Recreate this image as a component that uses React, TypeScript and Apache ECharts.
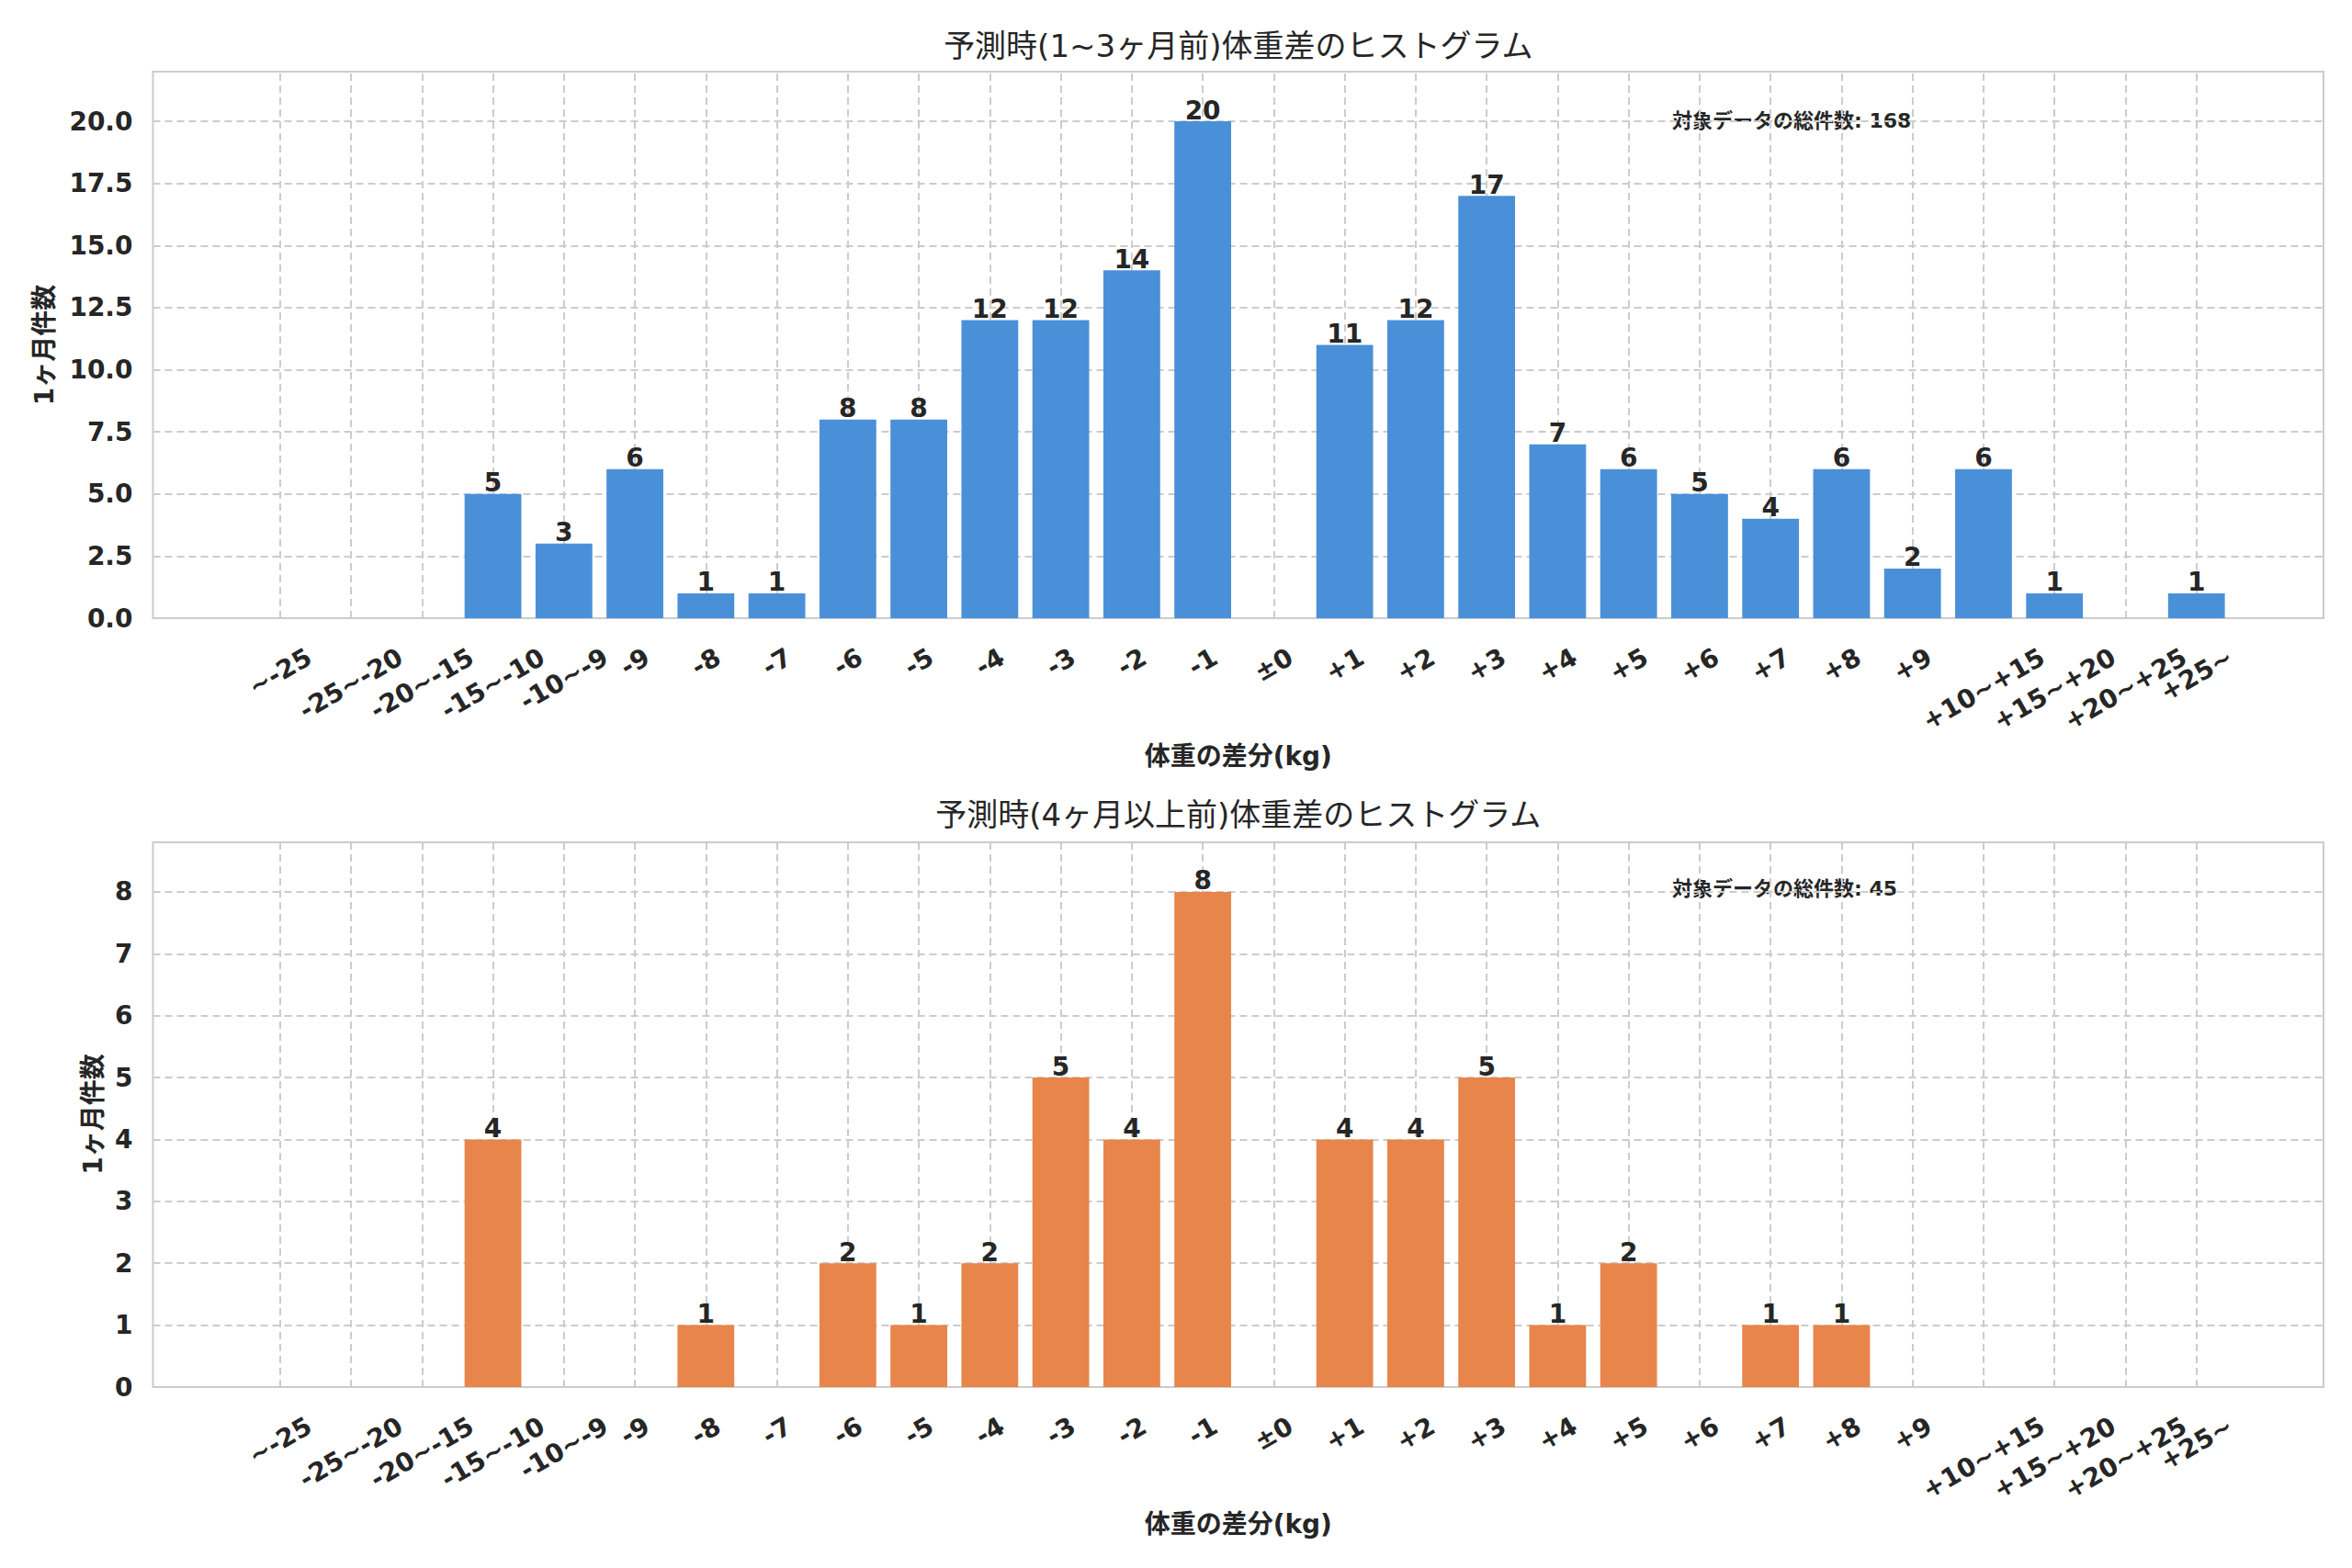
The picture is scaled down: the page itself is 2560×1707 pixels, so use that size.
import { useEffect, useRef } from 'react';
import * as echarts from 'echarts';

// 区分ラベル
const categories = [
    '~-25', '-25~-20', '-20~-15', '-15~-10', '-10~-9', '-9', '-8', '-7', '-6', '-5',
    '-4', '-3', '-2', '-1', '±0', '+1', '+2', '+3', '+4', '+5',
    '+6', '+7', '+8', '+9', '+10~+15', '+15~+20', '+20~+25', '+25~',
];

// 上段: 1~3ヶ月前
const shortTermCounts = [
    0, 0, 0, 5, 3, 6, 1, 1, 8, 8,
    12, 12, 14, 20, 0, 11, 12, 17, 7, 6,
    5, 4, 6, 2, 6, 1, 0, 1,
];

// 下段: 4ヶ月以上前
const longTermCounts = [
    0, 0, 0, 4, 0, 0, 1, 0, 2, 1,
    2, 5, 4, 8, 0, 4, 4, 5, 1, 2,
    0, 1, 1, 0, 0, 0, 0, 0,
];

const titles = ['予測時(1~3ヶ月前)体重差のヒストグラム', '予測時(4ヶ月以上前)体重差のヒストグラム'];
const xAxisName = '体重の差分(kg)';
const yAxisName = '1ヶ月件数';
const totalLabel = '対象データの総件数';

const FONT = '"DejaVu Sans", "Noto Sans CJK JP", sans-serif';
const TEXT = '#262626';
const GRID_LINE = '#cccccc';

const W = 2560;
const H = 1707;
const GRID_LEFT = 166.5;
const GRID_WIDTH = 2362.5;
const X_MIN = -1.79;
const X_MAX = 28.79;
const BAND = GRID_WIDTH / (X_MAX - X_MIN);

// 回転ラベルを matplotlib の ha=center 風に配置するための余白
function buildRich() {
    const ctx = document.createElement('canvas').getContext('2d');
    const rich: Record<string, any> = {};
    categories.forEach((c, i) => {
        let w = c.length * 17;
        if (ctx) {
            ctx.font = `bold 28px ${FONT}`;
            w = ctx.measureText(c).width;
        }
        const boxH = w * 0.5 + 32.6 * 0.866;
        const d = Math.max(0, 26 + boxH / 2 - 8);
        rich['l' + i] = {
            fontSize: 28,
            fontWeight: 'bold',
            fontFamily: FONT,
            color: TEXT,
            padding: [1.732 * d, d, 0, 0],
        };
    });
    return rich;
}

function panel(idx: number, values: number[], color: string, top: number, height: number,
    yMax: number, yInterval: number, digits: number, rich: Record<string, any>) {
    const grid = {
        left: GRID_LEFT, top, width: GRID_WIDTH, height,
        show: true, borderColor: GRID_LINE, borderWidth: 2, backgroundColor: '#ffffff',
    };
    const xAxis = {
        type: 'value', gridIndex: idx, min: X_MIN, max: X_MAX,
        axisLine: { show: false }, axisTick: { show: false }, splitLine: { show: false },
        axisLabel: {
            // 端の判定で隠されないよう、最後に空のラベルを置く
            customValues: [...categories.map((_, i) => i), X_MAX],
            rotate: 30,
            align: 'center',
            verticalAlign: 'middle',
            margin: 8,
            showMinLabel: true,
            showMaxLabel: true,
            hideOverlap: false,
            formatter: (v: number) => {
                const i = Math.round(v);
                return Math.abs(v - i) < 1e-6 && categories[i] !== undefined
                    ? `{l${i}|${categories[i]}}` : ' ';
            },
            rich,
        },
    };
    const yAxis = {
        type: 'value', gridIndex: idx, min: 0, max: yMax, interval: yInterval,
        axisLine: { show: false }, axisTick: { show: false },
        splitLine: { show: true, lineStyle: { color: GRID_LINE, width: 2, type: [8, 5] } },
        axisLabel: {
            showMaxLabel: false,
            margin: 22,
            fontSize: 28, fontWeight: 'bold', fontFamily: FONT, color: TEXT,
            formatter: (v: number) => v.toFixed(digits),
        },
    };
    const gridLines = {
        type: 'line', xAxisIndex: idx, yAxisIndex: idx, data: [], silent: true,
        markLine: {
            silent: true, symbol: 'none', z: 1,
            label: { show: false },
            lineStyle: { color: GRID_LINE, width: 2, type: [8, 5] },
            data: categories.map((_, i) => ({ xAxis: i })),
        },
    };
    const bars = {
        type: 'bar', xAxisIndex: idx, yAxisIndex: idx, z: 2,
        barWidth: BAND * 0.8,
        itemStyle: { color },
        label: {
            show: true, position: 'top', distance: -2,
            fontSize: 28, fontWeight: 'bold', fontFamily: FONT, color: TEXT,
            formatter: (p: any) => (p.value[1] > 0 ? String(p.value[1]) : ''),
        },
        data: values.map((v, i) => [i, v]),
    };
    return { grid, xAxis, yAxis, series: [gridLines, bars] };
}

export default function App() {
    const chartRef = useRef<HTMLDivElement>(null);

    useEffect(() => {
        document.body.style.margin = '0';
        if (!chartRef.current) return;
        const chart = echarts.init(chartRef.current, undefined, { renderer: 'svg' });
        const rich = buildRich();

        const p1 = panel(0, shortTermCounts, '#4a90d9', 78, 595, 22, 2.5, 1, rich);
        const p2 = panel(1, longTermCounts, '#e8854a', 917, 593, 8.8, 1, 0, rich);
        const total1 = shortTermCounts.reduce((a, b) => a + b, 0);
        const total2 = longTermCounts.reduce((a, b) => a + b, 0);
        const cx = GRID_LEFT + GRID_WIDTH / 2;

        const text = (x: number, y: number, t: string, size: number, bold: boolean,
            align = 'center', rotation = 0) => ({
            type: 'text', x, y, rotation, silent: true,
            style: {
                text: t, fontSize: size, fontWeight: bold ? 'bold' : 'normal',
                fontFamily: FONT, fill: TEXT, align, verticalAlign: 'middle',
            },
        });

        chart.setOption({
            animation: false,
            backgroundColor: '#ffffff',
            grid: [p1.grid, p2.grid],
            xAxis: [p1.xAxis, p2.xAxis],
            yAxis: [p1.yAxis, p2.yAxis],
            series: [...p1.series, ...p2.series],
            graphic: [
                text(cx, 50, titles[0], 34, false),
                text(cx, 887, titles[1], 34, false),
                text(cx, 823, xAxisName, 28, true),
                text(cx, 1659, xAxisName, 28, true),
                text(48, 375.5, yAxisName, 28, true, 'center', Math.PI / 2),
                text(101, 1213, yAxisName, 28, true, 'center', Math.PI / 2),
                text(1820, 131, `${totalLabel}: ${total1}`, 22, true, 'left'),
                text(1820, 967, `${totalLabel}: ${total2}`, 22, true, 'left'),
            ],
        });

        return () => {
            chart.dispose();
        };
    }, []);

    return <div ref={chartRef} style={{ width: W, height: H }} />;
}
